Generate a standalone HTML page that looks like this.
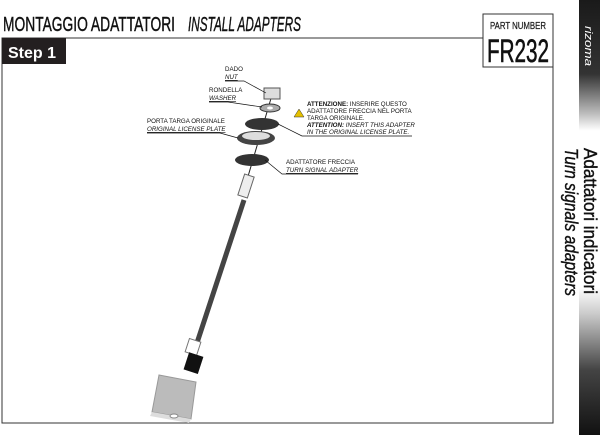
<!DOCTYPE html>
<html><head><meta charset="utf-8"><style>
body{margin:0;width:600px;height:435px;background:#fff;overflow:hidden;font-family:"Liberation Sans",sans-serif}
</style></head><body>
<svg width="600" height="435" viewBox="0 0 600 435" xmlns="http://www.w3.org/2000/svg" font-family="Liberation Sans, sans-serif">
<defs>
<linearGradient id="sb" x1="0" y1="0" x2="0" y2="1">
<stop offset="0" stop-color="#1a1a1a"/><stop offset="0.17" stop-color="#333"/><stop offset="0.26" stop-color="#bbb"/><stop offset="0.3" stop-color="#fff"/>
<stop offset="0.66" stop-color="#fff"/><stop offset="0.72" stop-color="#ccc"/><stop offset="0.85" stop-color="#444"/><stop offset="1" stop-color="#111"/>
</linearGradient>
</defs>
<text x="3" y="31" font-size="20" fill="#111" stroke="#111" stroke-width="0.4" textLength="172" lengthAdjust="spacingAndGlyphs">MONTAGGIO ADATTATORI</text>
<text x="188" y="31" font-size="20" font-style="italic" fill="#111" stroke="#111" stroke-width="0.4" textLength="113" lengthAdjust="spacingAndGlyphs">INSTALL ADAPTERS</text>
<polyline points="483,38 2,38 2,423 553,423 553,67" fill="none" stroke="#333" stroke-width="1"/>
<rect x="483" y="14" width="70" height="53" fill="#fff" stroke="#333"/>
<text x="490" y="29" font-size="10" fill="#222" stroke="#222" stroke-width="0.25" textLength="56" lengthAdjust="spacingAndGlyphs">PART NUMBER</text>
<text x="487" y="62" font-size="32" fill="#111" stroke="#111" stroke-width="0.6" textLength="62" lengthAdjust="spacingAndGlyphs">FR232</text>
<rect x="2" y="38" width="64" height="26" fill="#231f20"/>
<text x="8" y="58" font-size="16" font-weight="bold" fill="#fff">Step 1</text>
<rect x="579" y="0" width="21" height="435" fill="url(#sb)"/>
<text transform="translate(585,26) rotate(90)" font-size="11" font-style="italic" fill="#fff" textLength="40" lengthAdjust="spacingAndGlyphs">rizoma</text>
<text transform="translate(584,148) rotate(90)" font-size="18" fill="#111" stroke="#111" stroke-width="0.4" textLength="146" lengthAdjust="spacingAndGlyphs">Adattatori indicatori</text>
<text transform="translate(565,148) rotate(90)" font-size="18" font-style="italic" fill="#111" stroke="#111" stroke-width="0.4" textLength="148" lengthAdjust="spacingAndGlyphs">Turn signals adapters</text>
<!-- exploded parts -->
<line x1="272" y1="95" x2="244" y2="190" stroke="#222" stroke-width="1"/>
<rect x="264" y="88" width="16" height="11" fill="#ddd" stroke="#555"/>
<ellipse cx="270" cy="108" rx="10" ry="4" fill="#aaa" stroke="#333"/>
<ellipse cx="270" cy="108" rx="3" ry="1.5" fill="#fff"/>
<ellipse cx="262" cy="124" rx="17" ry="6" fill="#333"/>
<ellipse cx="256" cy="138" rx="19" ry="7" fill="#444"/>
<ellipse cx="256" cy="136" rx="14" ry="4" fill="#ddd"/>
<ellipse cx="252" cy="160" rx="17" ry="6" fill="#333"/>
<rect x="241" y="175" width="10" height="22" fill="#eee" stroke="#666" transform="rotate(18 246 186)"/>
<line x1="244" y1="200" x2="193" y2="355" stroke="#444" stroke-width="5"/>
<rect x="187" y="340" width="12" height="14" fill="#fff" stroke="#777" transform="rotate(18 193 347)"/>
<rect x="186" y="354" width="15" height="18" fill="#111" transform="rotate(18 193 363)"/>
<polygon points="159,375 196,382 191,419 152,412" fill="#bbb" stroke="#999"/>
<polygon points="152,412 191,419 189,423 150,416" fill="#ddd"/>
<ellipse cx="174" cy="416" rx="4" ry="2" fill="#fff" stroke="#888"/>
<!-- labels -->
<g font-size="6.2" fill="#111">
<text x="225" y="71">DADO</text><text x="225" y="79" font-style="italic" text-decoration="underline">NUT</text>
<polyline points="225,81 244,81 266,93" fill="none" stroke="#111" stroke-width=".7"/>
<text x="209" y="92">RONDELLA</text><text x="209" y="100" font-style="italic" text-decoration="underline">WASHER</text>
<polyline points="209,102 228,102 262,107" fill="none" stroke="#111" stroke-width=".7"/>
<text x="147" y="123">PORTA TARGA ORIGINALE</text><text x="147" y="131" font-style="italic" text-decoration="underline">ORIGINAL LICENSE PLATE</text>
<polyline points="147,133 220,133 238,138" fill="none" stroke="#111" stroke-width=".7"/>
<text x="286" y="164">ADATTATORE FRECCIA</text><text x="286" y="172" font-style="italic" text-decoration="underline">TURN SIGNAL ADAPTER</text>
<polyline points="358,174 282,174 265,160" fill="none" stroke="#111" stroke-width=".7"/>
<polygon points="299,109 294,117 304,117" fill="#e5c000" stroke="#333" stroke-width=".5"/>
<text x="307" y="106"><tspan font-weight="bold">ATTENZIONE:</tspan> INSERIRE QUESTO</text>
<text x="307" y="113">ADATTATORE FRECCIA NEL PORTA</text>
<text x="307" y="120">TARGA ORIGINALE.</text>
<text x="307" y="127" font-style="italic"><tspan font-weight="bold">ATTENTION:</tspan> INSERT THIS ADAPTER</text>
<text x="307" y="134" font-style="italic">IN THE ORIGINAL LICENSE PLATE.</text>
<polyline points="412,136 302,136 278,124" fill="none" stroke="#111" stroke-width=".7"/>
</g>
</svg>
</body></html>
